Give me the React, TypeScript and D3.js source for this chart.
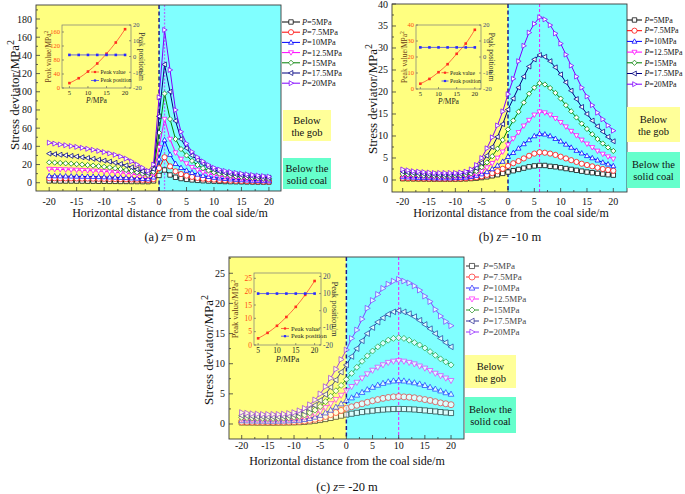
import React from "react";
import * as d3 from "d3";

const FONT = "'Liberation Serif','Times New Roman',Times,serif";

// ---------- shared categories ----------
const distances = [-20,-19,-18,-17,-16,-15,-14,-13,-12,-11,-10,-9,-8,-7,-6,-5,-4,-3,-2,-1,0,1,2,3,4,5,6,7,8,9,10,11,12,13,14,15,16,17,18,19,20];
const pressureLabels = ["5", "7.5", "10", "12.5", "15", "17.5", "20"];
const pressureValues = [5, 7.5, 10, 12.5, 15, 17.5, 20];
const xTickValues = [-20, -15, -10, -5, 0, 5, 10, 15, 20];
const insetXTicks = [5, 10, 15, 20];
const insetRightTicks = [-20, -10, 0, 10, 20];
const seriesColors = ["#000000", "#ff0000", "#0000ff", "#ff00ff", "#008000", "#000080", "#8000ff"];
const seriesShapes = ["square", "circle", "up", "down", "diamond", "left", "right"];

// ---------- panel (a) z = 0 m ----------
const aP5 = [2.0,2.0,1.9,1.9,1.9,1.8,1.8,1.7,1.7,1.6,1.6,1.5,1.5,1.4,1.4,1.3,1.3,1.2,1.2,2.0,8,14,8.5,6,4.6,3.7,3.1,2.6,2.2,1.9,1.7,1.5,1.3,1.2,1.1,1.0,0.9,0.85,0.8,0.75,0.7];
const aP7_5 = [5.0,4.9,4.9,4.8,4.8,4.7,4.6,4.6,4.5,4.4,4.3,4.2,4.1,4.0,3.8,3.6,3.4,3.2,3.0,4.0,16,28,18,12.5,9.5,7.8,6.4,5.3,4.5,3.9,3.4,3.0,2.6,2.3,2.1,1.9,1.7,1.5,1.4,1.3,1.2];
const aP10 = [7.5,7.4,7.3,7.2,7.1,7.0,6.9,6.8,6.7,6.5,6.3,6.1,5.9,5.7,5.4,5.1,4.8,4.5,4.2,6.0,26,47,31,21,16.5,13.5,11,9.2,7.8,6.6,5.7,5.0,4.4,3.9,3.5,3.1,2.8,2.5,2.3,2.1,1.9];
const aP12_5 = [15,14.8,14.6,14.4,14.2,14,13.7,13.4,13.1,12.8,12.4,12,11.5,11,10.3,9.6,8.8,7.9,7,9.5,39,70,48,33,26,21,17,14,11.5,9.8,8.4,7.3,6.4,5.7,5.1,4.6,4.2,3.8,3.5,3.2,3.0];
const aP15 = [22.4,22.1,21.7,21.3,20.9,20.4,19.9,19.4,18.8,18.2,17.5,16.8,16,15,14,12.8,11.5,10,8.5,12,55,98,70,48,37,30,24,19.5,16,13.5,11.5,10,8.8,7.9,7.1,6.5,5.9,5.4,5.0,4.6,4.3];
const aP17_5 = [32,31.4,30.8,30.2,29.5,28.8,28,27.2,26.3,25.3,24.3,23.2,22,20.6,19,17,14.8,12.5,10.5,15,73,130,100,68,48,38,30,25,21,17.5,14.5,12.5,11,10,9.2,8.4,7.7,7.1,6.6,6.1,5.6];
const aP20 = [44,43,42,41.2,40.3,39.4,38.4,37.3,36.2,35,33.7,32.3,30.7,28.9,26.5,23.5,20,16.5,13,20,94,168,124,80,56,43,34,28,23.5,19.5,16.5,14.5,13,11.8,10.8,10,9.2,8.5,7.9,7.3,6.8];
const aPeakValue = [14, 28, 47, 70, 98, 130, 168];
const aPeakPosition = [1, 1, 1, 1, 1, 1, 1];
const aYTicks = [0, 20, 40, 60, 80, 100, 120, 140, 160, 180];
const aInsetLeftTicks = [0, 40, 80, 120, 160];

// ---------- panel (b) z = -10 m ----------
const bP5 = [0.3,0.28,0.26,0.25,0.24,0.22,0.21,0.2,0.2,0.2,0.21,0.23,0.27,0.33,0.42,0.55,0.72,0.95,1.2,1.5,1.8,2.1,2.4,2.7,3.0,3.2,3.3,3.3,3.1,3.0,2.8,2.6,2.4,2.2,2.0,1.8,1.65,1.5,1.35,1.2,1.1];
const bP7_5 = [0.45,0.42,0.4,0.38,0.35,0.33,0.32,0.3,0.3,0.3,0.32,0.35,0.4,0.5,0.65,0.85,1.15,1.55,2.0,2.55,3.2,3.8,4.3,4.9,5.5,6.0,6.3,6.2,6.0,5.7,5.3,4.9,4.5,4.1,3.7,3.4,3.1,2.8,2.5,2.3,2.1];
const bP10 = [0.7,0.65,0.6,0.55,0.5,0.5,0.45,0.45,0.45,0.45,0.5,0.55,0.6,0.75,1.0,1.35,1.85,2.5,3.3,4.2,5.3,6.2,7.2,8.2,9.1,10,10.5,10.4,10,9.4,8.8,8.1,7.4,6.7,6.1,5.5,5.0,4.5,4.0,3.6,3.2];
const bP12_5 = [1.0,0.9,0.85,0.8,0.75,0.7,0.7,0.65,0.65,0.65,0.7,0.75,0.85,1.05,1.4,2.0,2.8,3.8,5.0,6.4,8,9.4,10.8,12.3,13.6,14.8,15.5,15.3,14.8,14,13.1,12.1,11.1,10.1,9.1,8.2,7.4,6.6,5.9,5.3,4.8];
const bP15 = [1.4,1.3,1.2,1.1,1.0,1.0,0.95,0.9,0.9,0.9,1.0,1.05,1.2,1.5,2.0,2.9,4.0,5.4,7.1,9.1,11.5,13.5,15.5,17.6,19.6,21,22,21.7,20.9,19.8,18.5,17,15.6,14.2,12.8,11.6,10.4,9.3,8.3,7.4,6.6];
const bP17_5 = [1.9,1.7,1.6,1.5,1.4,1.3,1.3,1.2,1.2,1.2,1.3,1.4,1.6,2.0,2.7,3.9,5.5,7.5,9.8,12.7,16,18.5,21,23.5,25.8,27.4,28.4,28,27,25.6,24,22.2,20.3,18.4,16.6,15,13.5,12.2,11,9.8,8.8];
const bP20 = [2.4,2.2,2.0,1.9,1.8,1.7,1.6,1.6,1.6,1.6,1.6,1.7,1.9,2.4,3.4,5.0,7.2,9.7,12.4,15.6,19.5,23,27,30.5,33.5,35.5,37,36.5,35.2,33.3,31,28.5,26,23.5,21,19,17,15.3,13.8,12.4,11.2];
const bPeakValue = [3.3, 6.3, 10.5, 15.5, 22, 28.4, 37];
const bPeakPosition = [6, 6, 6, 6, 6, 6, 6];
const bYTicks = [0, 5, 10, 15, 20, 25, 30, 35, 40];
const bInsetLeftTicks = [0, 10, 20, 30, 40];

// ---------- panel (c) z = -20 m ----------
const cP5 = [0.25,0.24,0.24,0.23,0.23,0.22,0.22,0.23,0.24,0.25,0.27,0.3,0.35,0.43,0.53,0.66,0.82,1.0,1.2,1.38,1.55,1.7,1.85,1.98,2.1,2.2,2.3,2.38,2.44,2.48,2.5,2.48,2.45,2.4,2.33,2.25,2.17,2.08,1.98,1.9,1.82];
const cP7_5 = [0.35,0.34,0.33,0.32,0.32,0.31,0.31,0.32,0.33,0.35,0.38,0.43,0.5,0.62,0.78,0.98,1.25,1.55,1.9,2.25,2.6,2.85,3.1,3.35,3.6,3.85,4.05,4.25,4.4,4.5,4.55,4.5,4.45,4.35,4.2,4.05,3.9,3.7,3.5,3.35,3.2];
const cP10 = [0.55,0.53,0.51,0.5,0.49,0.48,0.48,0.49,0.5,0.53,0.57,0.64,0.75,0.92,1.15,1.45,1.85,2.3,2.8,3.35,3.9,4.35,4.8,5.25,5.7,6.1,6.45,6.75,7.0,7.15,7.2,7.15,7.0,6.85,6.65,6.4,6.1,5.8,5.5,5.2,4.95];
const cP12_5 = [0.8,0.77,0.74,0.72,0.7,0.7,0.7,0.71,0.73,0.77,0.83,0.93,1.1,1.35,1.7,2.15,2.7,3.35,4.05,4.75,5.5,6.2,6.9,7.6,8.3,8.9,9.4,9.8,10.2,10.4,10.5,10.4,10.2,9.95,9.6,9.25,8.85,8.4,8.0,7.6,7.2];
const cP15 = [1.1,1.05,1.0,0.97,0.95,0.93,0.93,0.95,0.98,1.03,1.12,1.27,1.5,1.85,2.3,2.9,3.7,4.6,5.5,6.4,7.4,8.4,9.4,10.4,11.3,12.1,12.8,13.4,13.9,14.2,14.3,14.2,13.9,13.5,13.1,12.6,12.0,11.4,10.8,10.3,9.8];
const cP17_5 = [1.4,1.35,1.3,1.25,1.22,1.2,1.2,1.22,1.27,1.35,1.5,1.7,2.05,2.5,3.1,3.9,4.9,6.1,7.3,8.6,9.8,11.2,12.5,13.8,15,16,16.9,17.6,18.2,18.6,18.8,18.6,18.3,17.8,17.2,16.5,15.8,15,14.2,13.5,12.8];
const cP20 = [1.9,1.8,1.7,1.65,1.6,1.6,1.6,1.6,1.65,1.75,1.9,2.2,2.6,3.2,4.0,5.0,6.2,7.6,9.1,10.7,12.3,14.2,15.6,17.4,19.2,20.5,21.5,22.5,23.2,23.7,24,23.7,23.4,22.9,22.2,21.2,20.3,19.0,17.9,17.0,16.3];
const cPeakValue = [2.5, 4.55, 7.2, 10.5, 14.3, 18.8, 24];
const cPeakPosition = [10, 10, 10, 10, 10, 10, 10];
const cYTicks = [0, 5, 10, 15, 20, 25];
const cInsetLeftTicks = [0, 5, 10, 15, 20, 25];

// ---------- layout ----------
const YELLOW = "#ffff80";
const CYAN = "#80ffff";
const GOB = "#ffff99";
const COAL = "#66ffcc";

const cfgA = {
  plot: { x0: 36, x1: 281, y0: 5, y1: 191 },
  xDomain: [-22.4, 22.2], yDomain: [-9.1, 195.4],
  peakX: 1, peakColor: "#b070ff", peakDash: "2,1.5", peakWidth: 1.3,
  legend: { lineX0: 282, lineX1: 300, markerX: 291, textX: 302, y0: 22, dy: 10.2, fontSize: 8.3 },
  gob: { x: 283, y: 110, w: 48, h: 31 }, coal: { x: 283, y: 158, w: 48, h: 31 },
  inset: { x0: 62, x1: 131, y0: 25, y1: 88, xDomain: [3, 21.6], leftDomain: [0, 180], rightDomain: [-20, 20],
    legLineX0: 91, legLineX1: 99, legTextX: 100.5, legY0: 72, legDy: 8.5, font: 6.5, titleFont: 7.5, leftTitleDx: 11, rightTitleDx: 8, xLabelDy: 6.5, xTitleDy: 15 },
  yTitle: { x: 15, y: 95 }, xTitle: { x: 170, y: 216.5 }, tickLabelY: 205,
  caption: { x: 170, y: 241, pre: "(a) ", post: "= 0 m" },
  markerR: 2.6, opacity: 1,
};
const cfgB = {
  plot: { x0: 392, x1: 627, y0: 4, y1: 192 },
  xDomain: [-22.03, 22.6], yDomain: [-2.73, 40],
  peakX: 6, peakColor: "#ff00ff", peakDash: "3,2", peakWidth: 0.9,
  legend: { lineX0: 627, lineX1: 642, markerX: 634.5, textX: 644.5, y0: 20, dy: 10.7, fontSize: 7.9 },
  gob: { x: 627, y: 107, w: 53, h: 35 }, coal: { x: 627, y: 152, w: 53, h: 36 },
  inset: { x0: 416, x1: 481, y0: 25, y1: 89, xDomain: [3.8, 21.7], leftDomain: [0, 40], rightDomain: [-20, 20],
    legLineX0: 441.5, legLineX1: 448.5, legTextX: 450, legY0: 72.7, legDy: 8.3, font: 6.5, titleFont: 7.5, leftTitleDx: 9, rightTitleDx: 8, xLabelDy: 6.5, xTitleDy: 15 },
  yTitle: { x: 373, y: 99 }, xTitle: { x: 511, y: 216.5 }, tickLabelY: 205,
  caption: { x: 510, y: 241, pre: "(b) ", post: "= -10 m" },
  markerR: 2.6, opacity: 1,
};
const cfgC = {
  plot: { x0: 229, x1: 464, y0: 257, y1: 439 },
  xDomain: [-22.43, 22.48], yDomain: [-2.49, 27.7],
  peakX: 10, peakColor: "#ff00ff", peakDash: "3,2", peakWidth: 0.9,
  legend: { lineX0: 466, lineX1: 479, markerX: 472, textX: 483, y0: 266, dy: 11, fontSize: 9 },
  gob: { x: 465, y: 355, w: 51, h: 33 }, coal: { x: 465, y: 397, w: 51, h: 36 },
  inset: { x0: 254, x1: 321, y0: 273, y1: 345, xDomain: [3.9, 21.7], leftDomain: [0, 27], rightDomain: [-20, 22],
    legLineX0: 281, legLineX1: 289, legTextX: 291, legY0: 328.5, legDy: 7.7, font: 7.5, titleFont: 8.5, leftTitleDx: 16, rightTitleDx: 10.5, xLabelDy: 7.5, xTitleDy: 17 },
  yTitle: { x: 209, y: 350 }, xTitle: { x: 347, y: 465 }, tickLabelY: 448.5,
  caption: { x: 347, y: 491, pre: "(c) ", post: "= -20 m" },
  markerR: 3.0, opacity: 0.72,
};

function markerPath(shape: string, r: number): string {
  switch (shape) {
    case "square": { const s = r * 0.85; return `M${-s},${-s}H${s}V${s}H${-s}Z`; }
    case "circle": return `M${r},0A${r},${r} 0 1,1 ${-r},0A${r},${r} 0 1,1 ${r},0Z`;
    case "up": return `M0,${-r}L${r * 0.95},${r * 0.7}L${-r * 0.95},${r * 0.7}Z`;
    case "down": return `M0,${r}L${r * 0.95},${-r * 0.7}L${-r * 0.95},${-r * 0.7}Z`;
    case "left": return `M${-r},0L${r * 0.7},${-r * 0.95}L${r * 0.7},${r * 0.95}Z`;
    case "right": return `M${r},0L${-r * 0.7},${-r * 0.95}L${-r * 0.7},${r * 0.95}Z`;
    case "diamond": return `M0,${-r}L${r},0L0,${r}L${-r},0Z`;
  }
  return "";
}

function Inset({ cfg, peakValue, peakPosition, leftTicks }: any) {
  const ins = cfg.inset;
  const x = d3.scaleLinear().domain(ins.xDomain).range([ins.x0, ins.x1]);
  const yl = d3.scaleLinear().domain(ins.leftDomain).range([ins.y1, ins.y0]);
  const yr = d3.scaleLinear().domain(ins.rightDomain).range([ins.y1, ins.y0]);
  const redLine = d3.line<number>().x((_, i) => x(pressureValues[i])).y((v) => yl(v)).curve(d3.curveMonotoneX);
  const blueLine = d3.line<number>().x((_, i) => x(pressureValues[i])).y((v) => yr(v));
  const red = "#ff3020";
  const blue = "#2a2aff";
  const midY = (ins.y0 + ins.y1) / 2;
  const midX = (ins.x0 + ins.x1) / 2;
  const sq = 1.3;
  return (
    <g fontFamily={FONT}>
      <path d={redLine(peakValue) || ""} fill="none" stroke={red} strokeWidth={0.7} />
      {peakValue.map((v: number, i: number) => (
        <rect key={"r" + i} x={x(pressureValues[i]) - sq} y={yl(v) - sq} width={sq * 2} height={sq * 2} fill={red} />
      ))}
      <path d={blueLine(peakPosition) || ""} fill="none" stroke={blue} strokeWidth={0.7} />
      {peakPosition.map((v: number, i: number) => (
        <rect key={"b" + i} x={x(pressureValues[i]) - sq} y={yr(v) - sq} width={sq * 2} height={sq * 2} fill={blue} />
      ))}
      <rect x={ins.x0} y={ins.y0} width={ins.x1 - ins.x0} height={ins.y1 - ins.y0} fill="none" stroke="#7a7a7a" strokeWidth={0.7} />
      {insetXTicks.map((t) => (
        <g key={"ix" + t}>
          <line x1={x(t)} x2={x(t)} y1={ins.y1} y2={ins.y1 - 2} stroke="#555" strokeWidth={0.6} />
          <text x={x(t)} y={ins.y1 + ins.xLabelDy} fontSize={ins.font} textAnchor="middle" fill="#222">{t}</text>
        </g>
      ))}
      {leftTicks.map((t: number) => (
        <g key={"il" + t}>
          <line x1={ins.x0} x2={ins.x0 + 2} y1={yl(t)} y2={yl(t)} stroke="#555" strokeWidth={0.6} />
          <text x={ins.x0 - 2} y={yl(t) + ins.font * 0.35} fontSize={ins.font} textAnchor="end" fill="#ff4a10">{t}</text>
        </g>
      ))}
      {insetRightTicks.map((t) => (
        <g key={"ir" + t}>
          <line x1={ins.x1} x2={ins.x1 - 2} y1={yr(t)} y2={yr(t)} stroke="#555" strokeWidth={0.6} />
          <text x={ins.x1 + 2} y={yr(t) + ins.font * 0.35} fontSize={ins.font} textAnchor="start" fill="#3c4a7c">{t}</text>
        </g>
      ))}
      <text transform={`translate(${ins.x0 - ins.leftTitleDx},${midY}) rotate(-90)`} fontSize={ins.titleFont} textAnchor="middle" fill="#6a3a14">
        Peak value/MPa<tspan dy={-ins.titleFont * 0.35} fontSize={ins.titleFont * 0.75}>2</tspan>
      </text>
      <text transform={`translate(${ins.x1 + ins.rightTitleDx},${midY}) rotate(90)`} fontSize={ins.titleFont} textAnchor="middle" fill="#333">
        Peak position/m
      </text>
      <text x={midX} y={ins.y1 + ins.xTitleDy} fontSize={ins.titleFont} textAnchor="middle" fill="#222">
        <tspan fontStyle="italic">P</tspan>/MPa
      </text>
      {[0, 1].map((k) => {
        const yy = ins.legY0 + k * ins.legDy;
        const col = k === 0 ? red : blue;
        const mx = (ins.legLineX0 + ins.legLineX1) / 2;
        return (
          <g key={"lg" + k}>
            <line x1={ins.legLineX0} x2={ins.legLineX1} y1={yy} y2={yy} stroke={col} strokeWidth={0.7} />
            <rect x={mx - 1.1} y={yy - 1.1} width={2.2} height={2.2} fill={col} />
            <text x={ins.legTextX} y={yy + ins.font * 0.3} fontSize={ins.font * 0.88} fill="#222">{k === 0 ? "Peak value" : "Peak position"}</text>
          </g>
        );
      })}
    </g>
  );
}

function Panel({ cfg, series, peakValue, peakPosition, yTicks, insetLeftTicks }: any) {
  const p = cfg.plot;
  const x = d3.scaleLinear().domain(cfg.xDomain).range([p.x0, p.x1]);
  const y = d3.scaleLinear().domain(cfg.yDomain).range([p.y1, p.y0]);
  const lineGen = d3.line<number>().x((_, i) => x(distances[i])).y((v) => y(v));
  const xMinor = xTickValues.slice(1).map((t, i) => (t + xTickValues[i]) / 2);
  const yStep = yTicks[1] - yTicks[0];
  const yMinor = yTicks.map((t: number) => t + yStep / 2).filter((v: number) => v < cfg.yDomain[1]);
  const zeroX = x(0);
  const lg = cfg.legend;
  const r = cfg.markerR;
  const axisCol = "#3a3a3a";
  return (
    <g fontFamily={FONT}>
      <rect x={p.x0} y={p.y0} width={zeroX - p.x0} height={p.y1 - p.y0} fill={YELLOW} />
      <rect x={zeroX} y={p.y0} width={p.x1 - zeroX} height={p.y1 - p.y0} fill={CYAN} />
      <line x1={zeroX} x2={zeroX} y1={p.y0} y2={p.y1} stroke="#1a1a90" strokeWidth={1.5} strokeDasharray="4,2.5" />
      <line x1={x(cfg.peakX)} x2={x(cfg.peakX)} y1={p.y0} y2={p.y1} stroke={cfg.peakColor} strokeWidth={cfg.peakWidth} strokeDasharray={cfg.peakDash} />
      <g opacity={cfg.opacity}>
        {series.map((s: number[], si: number) => (
          <g key={"s" + si}>
            <path d={lineGen(s) || ""} fill="none" stroke={seriesColors[si]} strokeWidth={1} />
            {s.map((v, i) => (
              <path key={i} d={markerPath(seriesShapes[si], r)} transform={`translate(${x(distances[i])},${y(v)})`} fill="#ffffff" stroke={seriesColors[si]} strokeWidth={0.75} />
            ))}
          </g>
        ))}
      </g>
      <Inset cfg={cfg} peakValue={peakValue} peakPosition={peakPosition} leftTicks={insetLeftTicks} />
      <rect x={p.x0} y={p.y0} width={p.x1 - p.x0} height={p.y1 - p.y0} fill="none" stroke={axisCol} strokeWidth={0.9} />
      {xTickValues.map((t) => (
        <g key={"xt" + t}>
          <line x1={x(t)} x2={x(t)} y1={p.y1} y2={p.y1 - 4} stroke={axisCol} strokeWidth={0.8} />
          <text x={x(t)} y={cfg.tickLabelY} fontSize={10} textAnchor="middle" fill="#111">{t}</text>
        </g>
      ))}
      {xMinor.map((t) => (
        <line key={"xm" + t} x1={x(t)} x2={x(t)} y1={p.y1} y2={p.y1 - 2} stroke={axisCol} strokeWidth={0.8} />
      ))}
      {yTicks.map((t: number) => (
        <g key={"yt" + t}>
          <line x1={p.x0} x2={p.x0 + 4} y1={y(t)} y2={y(t)} stroke={axisCol} strokeWidth={0.8} />
          <text x={p.x0 - 4} y={y(t) + 3.5} fontSize={10} textAnchor="end" fill="#111">{t}</text>
        </g>
      ))}
      {yMinor.map((t: number) => (
        <line key={"ym" + t} x1={p.x0} x2={p.x0 + 2} y1={y(t)} y2={y(t)} stroke={axisCol} strokeWidth={0.8} />
      ))}
      <text transform={`translate(${cfg.yTitle.x + 4},${cfg.yTitle.y}) rotate(-90)`} fontSize={13} textAnchor="middle" fill="#111">
        Stress deviator/MPa<tspan dy={-5} fontSize={10}>2</tspan>
      </text>
      <text x={cfg.xTitle.x} y={cfg.xTitle.y} fontSize={12} textAnchor="middle" fill="#111">
        Horizontal distance from the coal side/m
      </text>
      <g opacity={cfg.opacity < 1 ? 0.8 : 1}>
        {pressureLabels.map((lab, i) => {
          const yy = lg.y0 + i * lg.dy;
          return (
            <g key={"lg" + i}>
              <line x1={lg.lineX0} x2={lg.lineX1} y1={yy} y2={yy} stroke={seriesColors[i]} strokeWidth={1} />
              <path d={markerPath(seriesShapes[i], r)} transform={`translate(${lg.markerX},${yy})`} fill="#fff" stroke={seriesColors[i]} strokeWidth={0.75} />
              <text x={lg.textX} y={yy + lg.fontSize * 0.35} fontSize={lg.fontSize} fill="#111">
                <tspan fontStyle="italic">P</tspan>={lab}MPa
              </text>
            </g>
          );
        })}
      </g>
      <rect x={cfg.gob.x} y={cfg.gob.y} width={cfg.gob.w} height={cfg.gob.h} fill={GOB} />
      <text x={cfg.gob.x + cfg.gob.w / 2} y={cfg.gob.y + cfg.gob.h / 2 - 2} fontSize={10.5} textAnchor="middle" fill="#111">Below</text>
      <text x={cfg.gob.x + cfg.gob.w / 2} y={cfg.gob.y + cfg.gob.h / 2 + 10} fontSize={10.5} textAnchor="middle" fill="#111">the gob</text>
      <rect x={cfg.coal.x} y={cfg.coal.y} width={cfg.coal.w} height={cfg.coal.h} fill={COAL} />
      <text x={cfg.coal.x + cfg.coal.w / 2} y={cfg.coal.y + cfg.coal.h / 2 - 2} fontSize={10.5} textAnchor="middle" fill="#111">Below the</text>
      <text x={cfg.coal.x + cfg.coal.w / 2} y={cfg.coal.y + cfg.coal.h / 2 + 10} fontSize={10.5} textAnchor="middle" fill="#111">solid coal</text>
      <text x={cfg.caption.x} y={cfg.caption.y} fontSize={12.5} textAnchor="middle" fill="#111">
        {cfg.caption.pre}<tspan fontStyle="italic">z</tspan>{cfg.caption.post}
      </text>
    </g>
  );
}

export default function App() {
  return (
    <svg width={685} height={494} viewBox="0 0 685 494" style={{ position: "absolute", left: 0, top: 0, background: "#fff" }}>
      <rect x={0} y={0} width={685} height={494} fill="#fff" />
      <Panel cfg={cfgA} series={[aP5, aP7_5, aP10, aP12_5, aP15, aP17_5, aP20]} peakValue={aPeakValue} peakPosition={aPeakPosition} yTicks={aYTicks} insetLeftTicks={aInsetLeftTicks} />
      <Panel cfg={cfgB} series={[bP5, bP7_5, bP10, bP12_5, bP15, bP17_5, bP20]} peakValue={bPeakValue} peakPosition={bPeakPosition} yTicks={bYTicks} insetLeftTicks={bInsetLeftTicks} />
      <Panel cfg={cfgC} series={[cP5, cP7_5, cP10, cP12_5, cP15, cP17_5, cP20]} peakValue={cPeakValue} peakPosition={cPeakPosition} yTicks={cYTicks} insetLeftTicks={cInsetLeftTicks} />
    </svg>
  );
}
